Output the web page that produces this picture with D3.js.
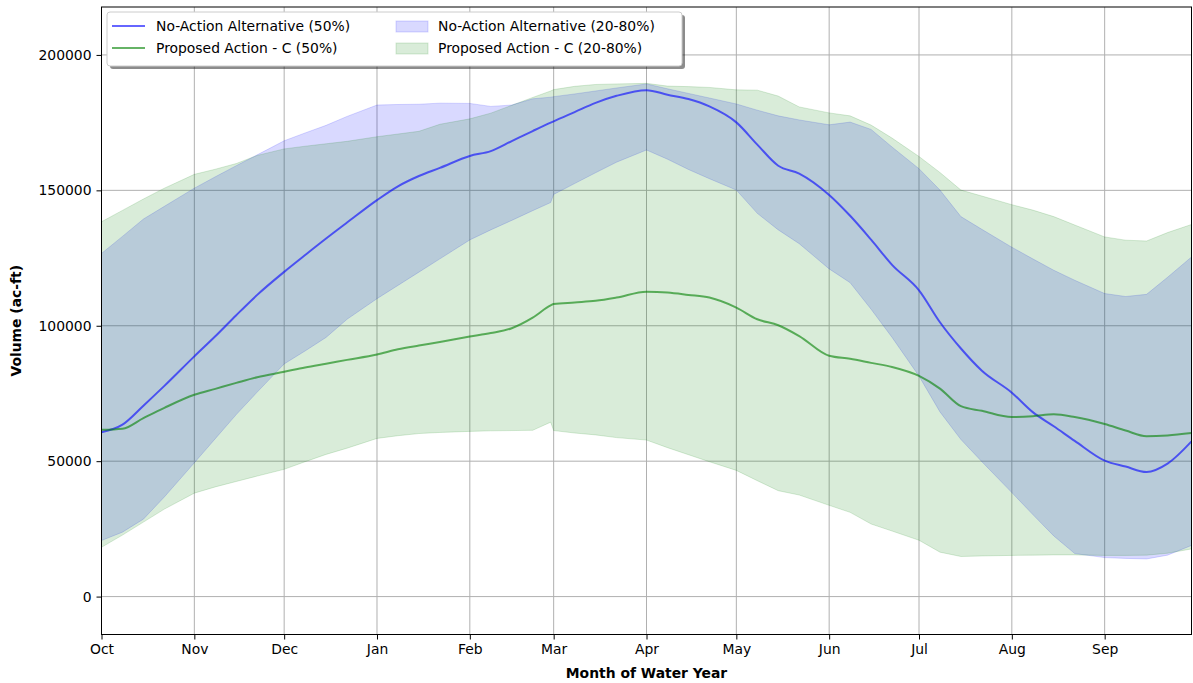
<!DOCTYPE html>
<html>
<head>
<meta charset="utf-8">
<script src="https://cdn.jsdelivr.net/npm/d3@7"></script>
<style>
  html, body { margin: 0; padding: 0; background: #fff; }
  svg { display: block; font-family: "DejaVu Sans", sans-serif; }
</style>
</head>
<body>
<svg id="chart" width="1193" height="683"></svg>
<script>
// ---- Data (day of water year, 0 = Oct 1) ----
const days = [0, 7, 14, 21, 31, 38, 45, 52, 61, 68, 75, 82, 92, 99, 106, 113, 123, 130, 137, 144, 150, 151, 158, 165, 172, 182, 189, 196, 203, 212, 219, 226, 233, 243, 250, 257, 264, 273, 280, 287, 294, 304, 311, 318, 325, 335, 342, 349, 356, 364];

const noActionMed = [60700, 63500, 70500, 77800, 88700, 96100, 103900, 111400, 119900, 126100, 132200, 138100, 146400, 151500, 155300, 158300, 162700, 164500, 168200, 171900, 175000, 175500, 178900, 182300, 184900, 187000, 185300, 183700, 181000, 175100, 166900, 159100, 156200, 148300, 140600, 131800, 122500, 113100, 101300, 91600, 83400, 75300, 68100, 62900, 57500, 50200, 48000, 46000, 49100, 57300];
const noActionHi = [126700, 133000, 139400, 144100, 150800, 155000, 159100, 163100, 168300, 171200, 174000, 177300, 181500, 181700, 181800, 182200, 182100, 181000, 181500, 183800, 184400, 184600, 185600, 186700, 187800, 189300, 187500, 185800, 184100, 181900, 179600, 177500, 176000, 174200, 175200, 172500, 166000, 158000, 150100, 140300, 135600, 129000, 124700, 120500, 116800, 111900, 110800, 111600, 117900, 125400];
const noActionLo = [20700, 23800, 28600, 36800, 49400, 58300, 67200, 75500, 85900, 90700, 95700, 102400, 110000, 114900, 119800, 124700, 131700, 135400, 138900, 142500, 145500, 148500, 152500, 156500, 160400, 164900, 161500, 157700, 154300, 150100, 141500, 135400, 130300, 121000, 115900, 106100, 95700, 81400, 68200, 58000, 49800, 38400, 30300, 22400, 15900, 14400, 14100, 13900, 15300, 18900];

const proposedMed = [61600, 62000, 65900, 69700, 74500, 76700, 78900, 81000, 83000, 84600, 86000, 87400, 89400, 91300, 92700, 94000, 96000, 97300, 99100, 103000, 107500, 108000, 108600, 109200, 110400, 112600, 112300, 111400, 110400, 106700, 102400, 100200, 96200, 88900, 87800, 86300, 84800, 81500, 76800, 70300, 68600, 66300, 66600, 67300, 66300, 63700, 61300, 59200, 59500, 60400];
const proposedHi = [138400, 142600, 146800, 150800, 155900, 157800, 159900, 162900, 165300, 166300, 167200, 168100, 169800, 170800, 171800, 174400, 176400, 178500, 181400, 184300, 186700, 187200, 188400, 189100, 189300, 189500, 188500, 188300, 188000, 187100, 187000, 184800, 180800, 178600, 177500, 174100, 169300, 162500, 156600, 150100, 147900, 144700, 142700, 140300, 137200, 132800, 131600, 131300, 134400, 137400];
const proposedLo = [18200, 22700, 27500, 32300, 38200, 40500, 42500, 44500, 47000, 49800, 52500, 54800, 58400, 59400, 60200, 60600, 61000, 61200, 61300, 61400, 64400, 61300, 60400, 59700, 58700, 57800, 55000, 52400, 49800, 46600, 42800, 39100, 37500, 33700, 31100, 26800, 24200, 20800, 16400, 14800, 15000, 15200, 15300, 15400, 15400, 15200, 15200, 15300, 16000, 17600];

const monthLabels = ["Oct", "Nov", "Dec", "Jan", "Feb", "Mar", "Apr", "May", "Jun", "Jul", "Aug", "Sep"];
const monthStartDays = [0, 31, 61, 92, 123, 151, 182, 212, 243, 273, 304, 335];
const yTicks = [0, 50000, 100000, 150000, 200000];

const legendLabels = ["No-Action Alternative (50%)", "Proposed Action - C (50%)", "No-Action Alternative (20-80%)", "Proposed Action - C (20-80%)"];

// ---- Layout ----
const svg = d3.select("#chart");
const plot = { left: 101.5, right: 1191.5, top: 7, bottom: 634.5 };
const x = d3.scaleLinear().domain([0, 364]).range([plot.left, plot.right]);
const y = d3.scaleLinear().domain([-14000, 217700]).range([plot.bottom, plot.top]);

const BLUE = "#0000ff", GREEN = "#008000";
const fontSize = 13.9;

svg.append("defs").append("clipPath").attr("id", "clip")
  .append("rect").attr("x", plot.left).attr("y", plot.top)
  .attr("width", plot.right - plot.left).attr("height", plot.bottom - plot.top);

// gridlines
const grid = svg.append("g");
grid.selectAll(".vg").data(monthStartDays).enter().append("line")
  .attr("x1", d => x(d)).attr("x2", d => x(d))
  .attr("y1", plot.top).attr("y2", plot.bottom)
  .attr("stroke", "#b0b0b0").attr("stroke-width", 1);
grid.selectAll(".hg").data(yTicks).enter().append("line")
  .attr("x1", plot.left).attr("x2", plot.right)
  .attr("y1", d => y(d)).attr("y2", d => y(d))
  .attr("stroke", "#b0b0b0").attr("stroke-width", 1);

const g = svg.append("g").attr("clip-path", "url(#clip)");
const idx = d3.range(days.length);

function band(lo, hi, color) {
  const area = d3.area().x(i => x(days[i])).y0(i => y(lo[i])).y1(i => y(hi[i]));
  g.append("path").attr("d", area(idx))
    .attr("fill", color).attr("fill-opacity", 0.15)
    .attr("stroke", color).attr("stroke-opacity", 0.15).attr("stroke-width", 1);
}
band(noActionLo, noActionHi, BLUE);
band(proposedLo, proposedHi, GREEN);

function line(vals, color) {
  const ln = d3.line().x(i => x(days[i])).y(i => y(vals[i])).curve(d3.curveMonotoneX);
  g.append("path").attr("d", ln(idx))
    .attr("fill", "none").attr("stroke", color).attr("stroke-opacity", 0.6)
    .attr("stroke-width", 2).attr("stroke-linejoin", "round");
}
line(noActionMed, BLUE);
line(proposedMed, GREEN);

// axes
const xAxis = d3.axisBottom(x).tickValues(monthStartDays)
  .tickFormat((d, i) => monthLabels[i]).tickSize(5).tickPadding(5);
const yAxis = d3.axisLeft(y).tickValues(yTicks)
  .tickFormat(d => String(d)).tickSize(5).tickPadding(5);

const gx = svg.append("g").attr("transform", `translate(0,${plot.bottom})`).call(xAxis);
const gy = svg.append("g").attr("transform", `translate(${plot.left},0)`).call(yAxis);
[gx, gy].forEach(a => {
  a.select(".domain").remove();
  a.selectAll("text").attr("font-size", fontSize).attr("font-family", "DejaVu Sans").attr("fill", "#000");
  a.selectAll("line").attr("stroke", "#000");
});

// frame
svg.append("rect").attr("x", plot.left).attr("y", plot.top)
  .attr("width", plot.right - plot.left).attr("height", plot.bottom - plot.top)
  .attr("fill", "none").attr("stroke", "#000").attr("stroke-width", 1);

// axis labels
svg.append("text").attr("x", (plot.left + plot.right) / 2).attr("y", 678)
  .attr("text-anchor", "middle").attr("font-weight", "bold").attr("font-size", fontSize)
  .text("Month of Water Year");
svg.append("text").attr("transform", `translate(21,${(plot.top + plot.bottom) / 2}) rotate(-90)`)
  .attr("text-anchor", "middle").attr("font-weight", "bold").attr("font-size", fontSize)
  .text("Volume (ac-ft)");

// legend
const lg = svg.append("g");
const lx = 107, ly = 12, lw = 575, lh = 54;
lg.append("rect").attr("x", lx + 3).attr("y", ly + 3).attr("width", lw).attr("height", lh)
  .attr("rx", 3).attr("fill", "#000").attr("fill-opacity", 0.45);
lg.append("rect").attr("x", lx).attr("y", ly).attr("width", lw).attr("height", lh)
  .attr("rx", 3).attr("fill", "#fff").attr("stroke", "#cccccc").attr("stroke-width", 1);

const rows = [26, 48];
[BLUE, GREEN].forEach((c, i) => {
  lg.append("line").attr("x1", 112).attr("x2", 145).attr("y1", rows[i]).attr("y2", rows[i])
    .attr("stroke", c).attr("stroke-opacity", 0.6).attr("stroke-width", 2);
  lg.append("text").attr("x", 156).attr("y", rows[i]).attr("dy", "0.35em")
    .attr("font-size", fontSize).text(legendLabels[i]);
  lg.append("rect").attr("x", 396).attr("y", rows[i] - 5).attr("width", 32).attr("height", 11)
    .attr("fill", c).attr("fill-opacity", 0.15).attr("stroke", c).attr("stroke-opacity", 0.15);
  lg.append("text").attr("x", 438).attr("y", rows[i]).attr("dy", "0.35em")
    .attr("font-size", fontSize).text(legendLabels[i + 2]);
});
</script>
</body>
</html>
